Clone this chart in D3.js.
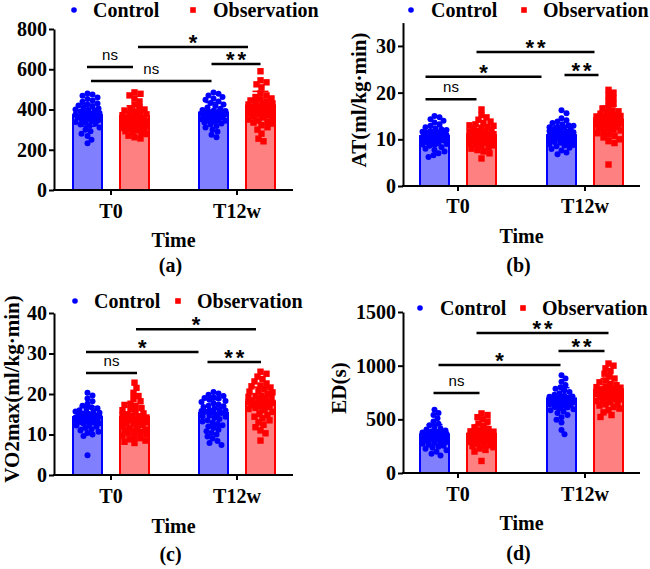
<!DOCTYPE html>
<html><head><meta charset="utf-8">
<script src="https://cdn.jsdelivr.net/npm/d3@7"></script>
<style>body{margin:0;background:#fff}</style>
</head><body><svg id="c" width="650" height="569"></svg>
<script>
const categories = ["T0", "T12w"];
const groups = ["Control", "Observation"];

// ---- Panel (a) ----
const aTicks = [0, 200, 400, 600, 800];
const aMeans = [[372, 368], [385, 420]];
const aSds = [[55, 50], [50, 70]];
const aT0Control = [480,475,468,460,452,445,438,430,425,420,415,410,405,400,398,395,390,386,382,378,375,372,370,368,365,362,360,357,354,350,346,342,338,334,330,325,318,310,300,292,280,268,250,232,360];
const aT0Observation = [485,478,470,455,440,425,412,405,400,395,390,385,380,376,372,368,365,360,356,352,348,344,340,336,332,328,324,320,316,312,308,304,300,296,292,288,284,278,270,262,256,350,342,330,310];
const aT12wControl = [485,478,470,462,455,448,440,432,425,418,410,404,398,394,390,387,384,381,378,375,372,370,367,364,360,356,352,348,344,340,335,330,325,318,310,300,290,275,262,380,385,372,365,392,350];
const aT12wObservation = [590,545,535,525,510,480,470,462,455,450,445,440,435,430,425,420,416,412,408,404,400,396,392,388,384,380,376,372,368,362,356,350,345,340,335,330,322,312,300,280,255,242,430,410,395];
const aSig = [
  ["T0","Control","T0","Observation",611,"ns"],
  ["T0","Control","T12w","Control",542,"ns"],
  ["T0","Observation","T12w","Observation",711,"*"],
  ["T12w","Control","T12w","Observation",626,"**"]
];

// ---- Panel (b) ----
const bTicks = [0, 10, 20, 30];
const bMeans = [[10.7, 10.9], [10.9, 14.2]];
const bSds = [[2.0, 2.1], [2.0, 2.9]];
const bT0Control = [15.0,14.7,14.3,14.0,13.6,13.2,12.9,12.6,12.3,12.0,11.8,11.6,11.4,11.2,11.0,10.9,10.8,10.7,10.6,10.5,10.4,10.3,10.2,10.0,9.8,9.6,9.4,9.2,9.0,8.8,8.6,8.3,8.0,7.7,7.4,7.0,6.6,6.2,11.3,10.9,11.5,9.9,10.1,12.1,8.9];
const bT0Observation = [16.4,15.2,14.7,14.2,13.8,13.5,13.2,12.9,12.6,12.3,12.0,11.8,11.6,11.4,11.2,11.0,10.8,10.7,10.5,10.4,10.2,10.1,10.0,9.9,9.7,9.5,9.3,9.1,8.9,8.7,8.5,8.3,8.0,7.7,7.4,7.0,5.9,10.6,11.1,9.8,12.4,13.0,10.3,9.4,11.7];
const bT12wControl = [16.2,15.6,14.5,14.1,13.8,13.5,13.2,12.9,12.6,12.4,12.2,12.0,11.8,11.6,11.4,11.2,11.0,10.8,10.7,10.5,10.3,10.1,9.9,9.7,9.5,9.3,9.1,8.9,8.7,8.5,8.2,7.9,7.6,7.2,6.8,11.5,12.1,10.6,9.8,11.9,13.0,10.2,8.8,12.7,11.1];
const bT12wObservation = [20.6,20.0,19.4,18.8,18.2,17.6,17.0,16.6,16.2,15.8,15.5,15.2,14.9,14.7,14.5,14.3,14.1,13.9,13.7,13.5,13.3,13.1,12.9,12.7,12.5,12.3,12.1,11.9,11.6,11.3,11.0,10.7,10.4,10.0,9.6,9.2,4.6,14.8,15.0,13.6,14.2,16.0,12.8,13.4,15.4];
const bSig = [
  ["T0","Control","T0","Observation",18.6,"ns"],
  ["T0","Control","T12w","Control",23.4,"*"],
  ["T0","Observation","T12w","Observation",28.7,"**"],
  ["T12w","Control","T12w","Observation",23.8,"**"]
];

// ---- Panel (c) ----
const cTicks = [0, 10, 20, 30, 40];
const cMeans = [[14.3, 14.3], [15.3, 18.1]];
const cSds = [[2.6, 3.4], [3.3, 3.6]];
const cT0Control = [20.3,19.6,18.9,18.2,17.6,17.1,16.7,16.3,16.0,15.7,15.4,15.1,14.9,14.7,14.5,14.3,14.1,13.9,13.7,13.5,13.3,13.1,12.9,12.7,12.5,12.2,11.9,11.6,11.3,11.0,10.7,10.4,10.0,9.6,4.9,14.4,14.0,15.2,13.8,14.6,13.4,15.8,12.8,14.2,16.5];
const cT0Observation = [22.8,21.5,20.3,19.5,18.8,18.2,17.6,17.0,16.5,16.0,15.6,15.2,14.8,14.5,14.2,13.9,13.6,13.3,13.0,12.7,12.4,12.1,11.8,11.5,11.2,10.9,10.6,10.3,10.0,9.7,9.4,9.1,8.8,8.5,8.2,7.9,14.0,15.0,13.5,16.2,12.6,11.0,14.6,13.2,17.3];
const cT12wControl = [20.5,20.1,19.8,19.5,19.2,18.9,18.6,18.3,18.0,17.7,17.4,17.1,16.8,16.5,16.2,15.9,15.6,15.3,15.0,14.7,14.4,14.1,13.8,13.5,13.2,12.9,12.6,12.3,12.0,11.6,11.2,10.8,10.4,10.0,9.5,9.0,8.4,7.9,7.4,16.0,15.5,17.0,14.5,19.0,15.8];
const cT12wObservation = [25.5,25.0,24.3,23.7,23.1,22.6,22.1,21.6,21.2,20.8,20.4,20.0,19.6,19.3,19.0,18.7,18.4,18.1,17.8,17.5,17.2,16.9,16.6,16.3,16.0,15.6,15.2,14.8,14.4,14.0,13.5,13.0,12.4,11.8,11.0,10.3,8.5,18.2,19.5,17.6,20.6,18.9,16.8,21.9,18.0];
const cSig = [
  ["T0","Control","T0","Observation",25.2,"ns"],
  ["T0","Control","T12w","Control",30.4,"*"],
  ["T0","Observation","T12w","Observation",36.0,"*"],
  ["T12w","Control","T12w","Observation",27.9,"**"]
];

// ---- Panel (d) ----
const dTicks = [0, 500, 1000, 1500];
const dMeans = [[360, 365], [695, 775]];
const dSds = [[90, 85], [100, 105]];
const dT0Control = [590,560,540,510,480,460,445,430,415,405,395,385,378,370,362,355,348,342,336,330,324,318,312,306,300,294,288,280,272,264,255,245,235,225,212,198,180,162,350,365,340,390,310,330,375];
const dT0Observation = [555,540,520,500,480,460,440,425,410,398,388,380,372,365,358,352,346,340,335,330,325,320,315,310,305,298,290,282,274,266,258,250,240,228,215,200,112,345,360,335,375,320,355,300,385];
const dT12wControl = [910,880,850,820,800,785,770,755,742,730,720,712,705,698,692,686,680,675,670,665,660,655,650,645,640,634,628,620,612,604,595,585,572,558,540,520,495,470,400,360,690,700,680,710,660];
const dT12wObservation = [1020,1000,975,950,925,900,880,862,845,830,818,806,795,785,776,768,760,752,745,738,731,724,717,710,702,694,686,678,670,660,650,640,628,615,600,585,565,540,522,770,760,780,750,800,740];
const dSig = [
  ["T0","Control","T0","Observation",745,"ns"],
  ["T0","Control","T12w","Control",1006,"*"],
  ["T0","Observation","T12w","Observation",1305,"**"],
  ["T12w","Control","T12w","Observation",1137,"**"]
];

// ---- build panels from arrays ----
const panels = [
  {caption:"(a)", yLabel:null, domain:[0,800], ticks:aTicks, means:aMeans, sds:aSds, sig:aSig,
   pts:[[aT0Control,aT0Observation],[aT12wControl,aT12wObservation]]},
  {caption:"(b)", yLabel:"AT(ml/kg·min)", domain:[0,35], ticks:bTicks, means:bMeans, sds:bSds, sig:bSig,
   pts:[[bT0Control,bT0Observation],[bT12wControl,bT12wObservation]]},
  {caption:"(c)", yLabel:"VO2max(ml/kg·min)", domain:[0,40], ticks:cTicks, means:cMeans, sds:cSds, sig:cSig,
   pts:[[cT0Control,cT0Observation],[cT12wControl,cT12wObservation]]},
  {caption:"(d)", yLabel:"ED(s)", domain:[0,1500], ticks:dTicks, means:dMeans, sds:dSds, sig:dSig,
   pts:[[dT0Control,dT0Observation],[dT12wControl,dT12wObservation]]}
];

// ---- layout (pixels) ----
const layouts = [
  {axisX:54, right:293, y0:190, yTop:29, band:[48,300], tickBase:218, timeBase:247, capBase:272,
   leg:{dot:74,t1:93,sq:193,t2:213,base:17}, ylab:null,
   nudge:[[-0.5,-1.5],[3.5,-2],[3.5,-12.5],[-2,0]]},
  {axisX:403, right:640, y0:186, yTop:22.6, band:[394.5,648.5], tickBase:213, timeBase:243, capBase:272,
   leg:{dot:411,t1:431,sq:524,t2:543,base:17}, ylab:{x:366,y:100},
   nudge:[[-9,-5],[-9,-20],[-5,-14],[3,-10]]},
  {axisX:54, right:293, y0:475, yTop:313, band:[48,300], tickBase:503, timeBase:533, capBase:561,
   leg:{dot:75,t1:94,sq:178,t2:197,base:308}, ylab:{x:19,y:389},
   nudge:[[-1.5,2.5],[-1.5,-15],[1.5,-4.5],[-6,0.5]]},
  {axisX:403, right:640, y0:473, yTop:312, band:[394.5,648.5], tickBase:501, timeBase:530, capBase:560,
   leg:{dot:420,t1:440,sq:523,t2:542,base:315}, ylab:{x:346,y:388},
   nudge:[[-1,-2],[4,-1],[-5,0],[-3,-4]]}
];

const svg = d3.select("#c");
const serif = "'Liberation Serif','Times New Roman',serif";
const sans = "'Liberation Sans',Arial,sans-serif";
const strokeC = ["#0000ff", "#ff0000"];
const fillC = ["#8080ff", "#ff8080"];
const R = 3, SQ = 6.4;

function swarm(values, yScale, r, maxOff) {
  const placed = [];
  const order = values.map(v => ({v, py: yScale(v)})).sort((a, b) => a.py - b.py);
  order.forEach(o => {
    let best = 0, bestScore = -Infinity;
    for (let k = 0; k <= 2 * maxOff; k++) {
      const off = k === 0 ? 0 : (k % 2 ? 1 : -1) * Math.ceil(k / 2);
      let minD = Infinity;
      for (const p of placed) {
        const d = Math.hypot(p.x - off, p.y - o.py);
        if (d < minD) minD = d;
      }
      if (minD >= 2 * r * 0.85) { best = off; bestScore = Infinity; break; }
      if (minD > bestScore) { bestScore = minD; best = off; }
    }
    placed.push({x: best, y: o.py});
  });
  return placed;
}

function styleText(sel, size) {
  sel.attr("font-family", serif).attr("font-weight", "bold").attr("font-size", size).attr("fill", "#000");
}

panels.forEach((p, pi) => {
  const L = layouts[pi];
  const g = svg.append("g");
  const y = d3.scaleLinear().domain(p.domain).range([L.y0, L.yTop]);
  const x = d3.scaleBand().domain(categories).range(L.band);
  const xs = d3.scalePoint().domain(groups).range([-23.5, 23.5]);
  const cx = (c, grp) => x(c) + x.bandwidth() / 2 + xs(grp);

  // bars
  categories.forEach((c, ci) => groups.forEach((grp, gi) => {
    const m = p.means[ci][gi];
    g.append("rect").attr("x", cx(c, grp) - 14.5).attr("width", 29)
      .attr("y", y(m)).attr("height", L.y0 - y(m))
      .attr("fill", fillC[gi]).attr("stroke", strokeC[gi]).attr("stroke-width", 2);
  }));

  // error bars (mean ± SD), beneath the points
  categories.forEach((c, ci) => groups.forEach((grp, gi) => {
    const m = p.means[ci][gi], s = p.sds[ci][gi], xx = cx(c, grp);
    const eg = g.append("g").attr("stroke", strokeC[gi]).attr("stroke-width", 1.6);
    eg.append("line").attr("x1", xx).attr("x2", xx).attr("y1", y(m - s)).attr("y2", y(m + s));
    [m - s, m + s].forEach(v => eg.append("line").attr("x1", xx - 8).attr("x2", xx + 8).attr("y1", y(v)).attr("y2", y(v)));
  }));

  // points
  categories.forEach((c, ci) => groups.forEach((grp, gi) => {
    const pts = swarm(p.pts[ci][gi], y, gi === 0 ? R : SQ / 2, 12);
    const cxx = cx(c, grp);
    if (gi === 0) {
      g.selectAll(null).data(pts).enter().append("circle")
        .attr("cx", d => cxx + d.x).attr("cy", d => d.y).attr("r", R).attr("fill", strokeC[0]);
    } else {
      g.selectAll(null).data(pts).enter().append("rect")
        .attr("x", d => cxx + d.x - SQ / 2).attr("y", d => d.y - SQ / 2)
        .attr("width", SQ).attr("height", SQ).attr("fill", strokeC[1]);
    }
  }));

  // y axis
  const ya = g.append("g").attr("transform", `translate(${L.axisX},0)`)
    .call(d3.axisLeft(y).tickValues(p.ticks).tickSize(5).tickSizeOuter(0).tickPadding(2).tickFormat(d3.format("d")));
  ya.select(".domain").attr("stroke", "#000").attr("stroke-width", 2);
  ya.selectAll(".tick line").attr("stroke", "#000").attr("stroke-width", 2);
  styleText(ya.selectAll(".tick text"), 20);

  // x axis
  const xa = g.append("g").attr("transform", `translate(0,${L.y0})`)
    .call(d3.axisBottom(x).tickSize(5).tickSizeOuter(0));
  xa.select(".domain").remove();
  xa.selectAll(".tick line").attr("stroke", "#000").attr("stroke-width", 2);
  styleText(xa.selectAll(".tick text").attr("y", L.tickBase - L.y0).attr("dy", 0), 20);
  g.append("line").attr("x1", L.axisX - 1).attr("x2", L.right).attr("y1", L.y0).attr("y2", L.y0)
    .attr("stroke", "#000").attr("stroke-width", 2);

  // axis titles & caption
  const mid = (L.axisX + L.right) / 2;
  styleText(g.append("text").attr("x", mid).attr("y", L.timeBase).attr("text-anchor", "middle").text("Time"), 20);
  styleText(g.append("text").attr("x", mid - 3).attr("y", L.capBase).attr("text-anchor", "middle").text(p.caption), 20);
  if (p.yLabel) {
    styleText(g.append("text").attr("transform", `translate(${L.ylab.x},${L.ylab.y}) rotate(-90)`)
      .attr("text-anchor", "middle").text(p.yLabel), 21);
  }

  // legend
  const lg = L.leg;
  g.append("circle").attr("cx", lg.dot).attr("cy", lg.base - 7).attr("r", 2.8).attr("fill", strokeC[0]);
  styleText(g.append("text").attr("x", lg.t1).attr("y", lg.base).text(groups[0]), 20);
  g.append("rect").attr("x", lg.sq - 2.8).attr("y", lg.base - 9.8).attr("width", 5.6).attr("height", 5.6).attr("fill", strokeC[1]);
  styleText(g.append("text").attr("x", lg.t2).attr("y", lg.base).text(groups[1]), 20);

  // significance brackets
  p.sig.forEach((s, si) => {
    const [c1, g1, c2, g2, v, lab] = s;
    const nd = L.nudge[si];
    const x1 = cx(c1, g1) + nd[0], x2 = cx(c2, g2) + nd[1], yy = y(v);
    g.append("line").attr("x1", x1).attr("x2", x2).attr("y1", yy).attr("y2", yy)
      .attr("stroke", "#000").attr("stroke-width", 2.5);
    const t = g.append("text").attr("x", (x1 + x2) / 2).attr("text-anchor", "middle")
      .attr("font-family", sans).attr("fill", "#000").text(lab);
    if (lab === "ns") {
      t.attr("y", yy - 7).attr("font-size", 15);
    } else {
      t.attr("y", yy + 3).attr("font-size", 22).attr("font-weight", "bold")
        .attr("letter-spacing", lab.length > 1 ? 3 : 0)
        .attr("dx", lab.length > 1 ? 1.5 : 0);
    }
  });
});
</script>
</body></html>
